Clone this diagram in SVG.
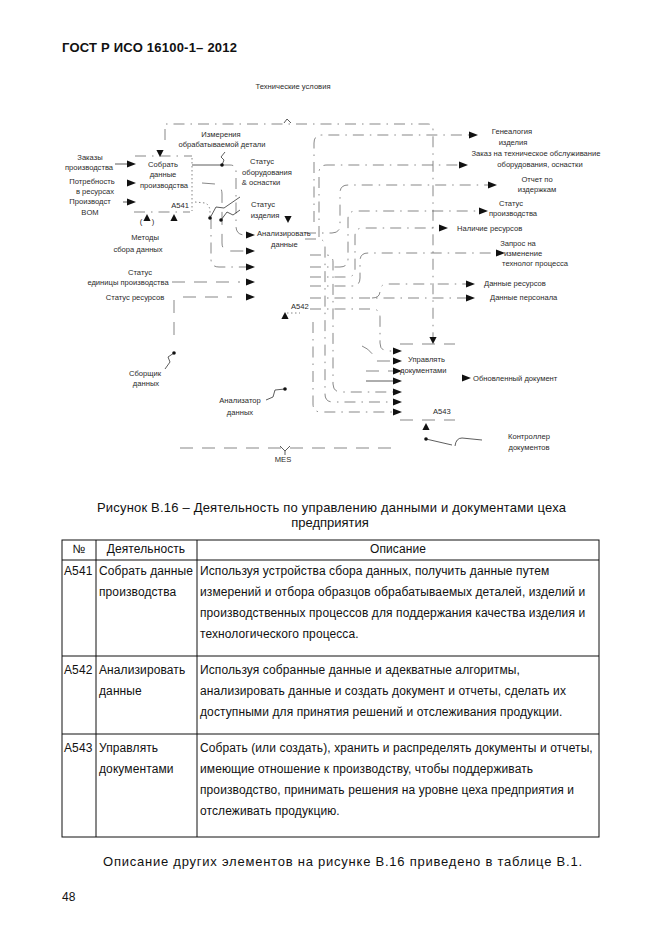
<svg xmlns="http://www.w3.org/2000/svg" xmlns:xlink="http://www.w3.org/1999/xlink" width="661" height="935" viewBox="0 0 661 935">
<style>
.t8{font-family:"Liberation Sans",Arial,sans-serif;font-size:7.6px;fill:#2a2a2a}
.tt{font-family:"Liberation Sans",Arial,sans-serif;font-size:12px;fill:#111;letter-spacing:0.1px}
.cap{font-family:"Liberation Sans",Arial,sans-serif;font-size:13px;fill:#111}
.dd{fill:none;stroke:#555;stroke-width:0.7;stroke-dasharray:11 6 1.5 6}
.ds{fill:none;stroke:#555;stroke-width:0.7;stroke-dasharray:13 9}
.dt{fill:none;stroke:#666;stroke-width:0.8;stroke-dasharray:1.5 2.5}
.sl{fill:none;stroke:#333;stroke-width:0.8}
.ah{fill:#111}
.tb{fill:none;stroke:#111;stroke-width:1}
</style>
<defs>
<path id="ar" d="M0,-3.6 L9,0 L0,3.6 Z"/>
<path id="ad" d="M-3.6,0 L3.6,0 L0,7 Z"/>
<path id="au" d="M-3.6,0 L3.6,0 L0,-7 Z"/>
</defs>
<rect width="661" height="935" fill="#fff"/>
<text x="62" y="52" font-family="Liberation Sans,Arial,sans-serif" font-size="13" font-weight="bold" fill="#111" textLength="175">ГОСТ Р ИСО 16100-1– 2012</text>

<g id="connectors">
<!-- boundary -->
<path class="dd" d="M165,140 L165,124 L428,124 Q433,124 433,130 L433,337"/>
<path class="sl" d="M284,123 L287,119 L291,123"/>
<path class="ds" d="M180,448 L395,448"/>
<path class="sl" d="M280,446 L285,451 L290,446 M285,451 L285,455"/>
<path class="ds" d="M174,300 L174,342"/>
<!-- A541 box -->
<path class="dd" d="M135,156 L192,156"/>
<path class="dt" d="M192,158 L192,211"/>
<path class="dd" d="M134,212 L190,212"/>
<!-- A541 inputs -->
<path class="sl" d="M115,164 L127,164"/>
<path class="sl" d="M127,183 L128,183"/>
<path class="sl" d="M123,202 L127,202"/>
<!-- A541 outputs -->
<path class="sl" d="M192,165 L222,165"/>
<path class="sl" d="M222,165 L224,160 L221,157 L225,152"/>
<path class="dd" d="M222,165 L230,165 Q236,165 236,171 L236,226 Q236,235 245,235 L246,235"/>
<path class="ds" d="M202,183 L215,184 Q222,186 222,194 L222,243 Q222,251 230,251 L246,251"/>
<path class="dt" d="M195,202 L205,203 Q210,205 210,212 L210,218"/>
<path class="dd" d="M211,218 L211,259 Q211,267 219,267 L246,267"/>
<path class="sl" d="M210,218 L216,207 L224,208 L240,197"/>
<path class="sl" d="M221,220 L227,212 L233,215 L240,210"/>
<!-- A542 inputs -->
<path class="ds" d="M172,282 L240,282"/>
<path class="ds" d="M183,297 L232,297"/>
<path class="dt" d="M287,313 L300,313"/>
<!-- A542 outputs -->
<path class="dd" d="M314,222 L314,143 Q314,135 322,135 L469,135"/>
<path class="dd" d="M319,237 L319,173 Q319,165 327,165 L459,165"/>
<path class="dd" d="M305,233 L332,233 Q340,233 340,225 L340,193 Q340,185 348,185 L488,185"/>
<path class="dd" d="M310,267 L340,267 Q348,267 348,259 L348,219 Q348,211 356,211 L479,211"/>
<path class="dd" d="M310,277 L347,277 Q355,277 355,269 L355,236 Q355,228 363,228 L439,228"/>
<path class="dd" d="M310,286 L352,286 Q360,286 360,278 L360,261 Q360,253 368,253 L496,253"/>
<path class="dd" d="M310,298 L466,298"/>
<path class="dd" d="M372,298 Q380,298 380,291 Q380,284 388,284 L466,284"/>
<path class="dd" d="M310,309 L372,309 Q380,309 380,317 L380,343 Q380,351 388,351 L393,351"/>
<path class="dd" d="M305,239 L318,239 Q325,239 325,247 L325,394 Q325,402 333,402 L393,402"/>
<path class="dd" d="M310,255 L326,255 Q333,255 333,262 L333,384 Q333,392 341,392 L393,392"/>
<path class="dd" d="M313,322 L313,404 Q313,412 321,412 L393,412"/>
<path class="ds" d="M362,346 Q372,350 376,361 L393,361"/>
<path class="ds" d="M366,371 L393,371"/>
<path class="sl" d="M366,381 L393,381"/>
<!-- A543 box -->
<path class="ds" d="M400,344 L455,344"/>
<path class="ds" d="M400,420 L455,420"/>
<!-- mechanisms -->
<path class="sl" d="M426,439 L452,445 M455,446 Q456,438 462,438 L482,440"/>
<path class="sl" d="M174,353 L168,357 L170,362 L165,369"/>
<path class="sl" d="M285,389 L275,390 L273,397 L266,400"/>
<!-- arrowheads -->
<g class="ah">
<use xlink:href="#ar" x="127" y="164"/>
<use xlink:href="#ar" x="127" y="183"/>
<use xlink:href="#ar" x="127" y="202"/>
<use xlink:href="#ad" x="160" y="150"/>
<use xlink:href="#au" x="147" y="221"/>
<use xlink:href="#au" x="174" y="221"/>
<use xlink:href="#ar" x="246" y="235"/>
<use xlink:href="#ar" x="246" y="251"/>
<use xlink:href="#ar" x="246" y="267"/>
<use xlink:href="#ar" x="246" y="282"/>
<use xlink:href="#ar" x="246" y="297"/>
<use xlink:href="#ad" x="288" y="216"/>
<use xlink:href="#au" x="285" y="319"/>
<use xlink:href="#ar" x="469" y="135"/>
<use xlink:href="#ar" x="459" y="165"/>
<use xlink:href="#ar" x="488" y="185"/>
<use xlink:href="#ar" x="479" y="211"/>
<use xlink:href="#ar" x="439" y="228"/>
<use xlink:href="#ar" x="496" y="253"/>
<use xlink:href="#ar" x="466" y="284"/>
<use xlink:href="#ar" x="466" y="298"/>
<use xlink:href="#ad" x="433" y="337"/>
<use xlink:href="#ar" x="393" y="351"/>
<use xlink:href="#ar" x="393" y="361"/>
<use xlink:href="#ar" x="393" y="371"/>
<use xlink:href="#ar" x="393" y="381"/>
<use xlink:href="#ar" x="393" y="392"/>
<use xlink:href="#ar" x="393" y="402"/>
<use xlink:href="#ar" x="393" y="412"/>
<use xlink:href="#ar" x="462" y="378"/>
<use xlink:href="#au" x="426" y="430"/>
<circle cx="222" cy="165" r="1.8"/>
<circle cx="210" cy="218" r="1.8"/>
<circle cx="221" cy="220" r="1.8"/>
<circle cx="174" cy="353" r="1.8"/>
<circle cx="285" cy="389" r="1.8"/>
<circle cx="426" cy="439" r="1.8"/>
</g>
</g>

<g id="labels" class="t8" text-anchor="middle">
<text x="293" y="89">Технические условия</text>
<text x="221" y="137">Измерения</text>
<text x="222" y="147">обрабатываемой детали</text>
<text x="90" y="160">Заказы</text>
<text x="89" y="170">производства</text>
<text x="92" y="184">Потребность</text>
<text x="95" y="194">в ресурсах</text>
<text x="90" y="204">Производст</text>
<text x="90" y="215">BOM</text>
<text x="145" y="240">Методы</text>
<text x="138" y="252">сбора данных</text>
<text x="140" y="275">Статус</text>
<text x="128" y="285">единицы производства</text>
<text x="135" y="300">Статус ресурсов</text>
<text x="262" y="164">Статус</text>
<text x="267" y="175">оборудования</text>
<text x="261" y="185">&amp; оснастки</text>
<text x="263" y="207">Статус</text>
<text x="265" y="218">изделия</text>
<text x="512" y="134">Генеалогия</text>
<text x="513" y="145">изделия</text>
<text x="536" y="156">Заказ на техническое обслуживание</text>
<text x="540" y="167">оборудования, оснастки</text>
<text x="537" y="182">Отчет по</text>
<text x="537" y="192">издержкам</text>
<text x="511" y="206">Статус</text>
<text x="513" y="216">производства</text>
<text x="518" y="246">Запрос на</text>
<text x="523" y="256">изменение</text>
<text x="535" y="266">технолог  процесса</text>
<text x="145" y="376">Сборщик</text>
<text x="146" y="386">данных</text>
<text x="240" y="403">Анализатор</text>
<text x="240" y="415">данных</text>
<text x="529" y="439">Контроллер</text>
<text x="529" y="450">документов</text>
<text x="283" y="462">MES</text>
<text x="141" y="224">(</text>
<text x="153" y="224">)</text>
</g>
<g class="t8">
<text x="457" y="231">Наличие ресурсов</text>
<text x="484" y="286">Данные ресурсов</text>
<text x="490" y="300">Данные персонала</text>
<text x="473" y="381">Обновленный документ</text>
</g>

<g id="A541" class="t8" text-anchor="middle">
<text x="163" y="167">Собрать</text>
<text x="163" y="177">данные</text>
<text x="164" y="188">производства</text>
<text x="180" y="208">A541</text>
</g>
<g id="A542" class="t8">
<text x="257" y="236">Анализировать</text>
<text x="271" y="247">данные</text>
<text x="291" y="309">A542</text>
</g>
<g id="A543" class="t8">
<text x="408" y="362">Управлять</text>
<text x="400" y="373">документами</text>
<text x="433" y="414">A543</text>
</g>

<g id="caption" class="cap">
<text x="97" y="512" textLength="469">Рисунок В.16 – Деятельность по управлению данными и документами цеха</text>
<text x="330" y="527" text-anchor="middle">предприятия</text>
</g>

<g id="table">
<rect class="tb" x="62" y="540" width="537" height="297"/>
<path class="tb" d="M62,560 H599 M62,656 H599 M62,734 H599 M96,540 V837 M197,540 V837"/>
<g class="tt" text-anchor="middle">
<text x="79" y="553">№</text>
<text x="146" y="553">Деятельность</text>
<text x="398" y="553">Описание</text>
</g>
<g class="tt">
<text x="64" y="575">А541</text>
<text x="99" y="575">Собрать данные</text>
<text x="99" y="596">производства</text>
<text x="200" y="575">Используя устройства сбора данных, получить данные путем</text>
<text x="200" y="596">измерений и отбора образцов обрабатываемых деталей, изделий и</text>
<text x="200" y="617">производственных процессов для поддержания качества изделия и</text>
<text x="200" y="638">технологического процесса.</text>
<text x="64" y="674">А542</text>
<text x="99" y="674">Анализировать</text>
<text x="99" y="695">данные</text>
<text x="200" y="674">Используя собранные данные и адекватные алгоритмы,</text>
<text x="200" y="695">анализировать данные и создать документ и отчеты, сделать их</text>
<text x="200" y="716">доступными для принятия решений и отслеживания продукции.</text>
<text x="64" y="752">А543</text>
<text x="99" y="752">Управлять</text>
<text x="99" y="773">документами</text>
<text x="200" y="752">Собрать (или создать), хранить и распределять документы и отчеты,</text>
<text x="200" y="773">имеющие отношение к производству, чтобы поддерживать</text>
<text x="200" y="794">производство, принимать решения на уровне цеха предприятия и</text>
<text x="200" y="815">отслеживать продукцию.</text>
</g>
</g>
<text class="cap" x="103" y="866" textLength="479">Описание других элементов на рисунке В.16 приведено в таблице В.1.</text>
<text class="tt" x="62" y="901">48</text>
</svg>
